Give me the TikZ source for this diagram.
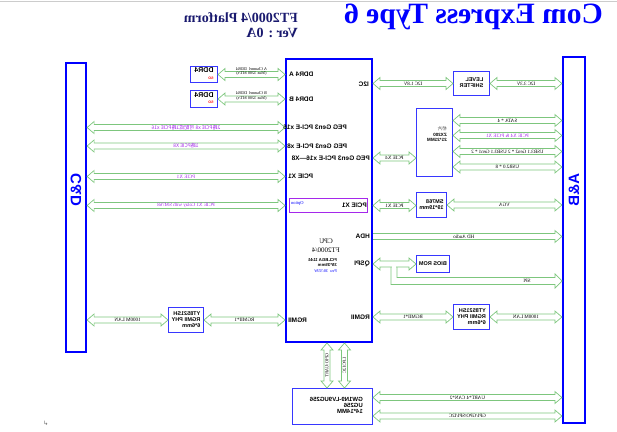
\documentclass[tikz,border=0pt]{standalone}
\usepackage{fontspec}
\usepackage{graphicx}
\setmainfont{Liberation Serif}
\setsansfont{Liberation Sans}
\newfontfamily\cjk{Noto Sans CJK SC}
\newfontfamily\dejavu{DejaVu Sans}
\usetikzlibrary{calc}

\definecolor{busgreen}{RGB}{125,198,125}
\definecolor{lblpurple}{RGB}{165,40,235}
\definecolor{boxblue}{RGB}{55,55,255}
\definecolor{titlenavy}{RGB}{25,25,110}

% the sheet is printed mirror-wise, so every text is reflected
\newcommand{\mir}[1]{\reflectbox{#1}}
\newcommand{\mirl}[1]{\reflectbox{\begin{tabular}{@{}l@{}}#1\end{tabular}}}
\newcommand{\mirc}[1]{\reflectbox{\begin{tabular}{@{}c@{}}#1\end{tabular}}}
\renewcommand{\arraystretch}{0.95}

\begin{document}
\begin{tikzpicture}[x=1pt, y=-1pt,
  bar/.style     = {draw=blue, line width=2.2pt, inner sep=0pt},
  cpubox/.style  = {draw=blue, line width=2pt, inner sep=0pt},
  box/.style     = {draw=boxblue, line width=1.2pt, inner sep=0pt,
                    font=\sffamily\bfseries\fontsize{5.5}{6.5}\selectfont},
  optbox/.style  = {draw=lblpurple, line width=0.9pt, inner sep=0pt},
  port/.style    = {inner sep=0pt, font=\sffamily\bfseries\fontsize{6.5}{7}\selectfont},
  side/.style    = {inner sep=0pt, rotate=90, text=blue,
                    font=\sffamily\bfseries\fontsize{15}{15}\selectfont},
  blbl/.style    = {midway, yshift=-3pt, inner sep=0pt, font=\fontsize{5}{5.5}\selectfont},
  plbl/.style    = {blbl, text=lblpurple},
  dlbl/.style    = {midway, inner sep=0pt, font=\fontsize{4.2}{4.8}\selectfont},
  vlbl/.style    = {midway, xshift=-3pt, rotate=90, inner sep=0pt,
                    font=\fontsize{4.5}{5}\selectfont},
  busline/.style = {draw=busgreen, line width=0.7pt},
  hbus/.style    = {busline, to path={let \p1=(\tikztostart), \p2=(\tikztotarget) in
                    -- (\x1+7pt,\y1+6pt) -- (\x1+7pt,\y1+3pt) -- (\x2-7pt,\y1+3pt) \tikztonodes
                    -- (\x2-7pt,\y1+6pt) -- (\x2,\y1) -- (\x2-7pt,\y1-6pt) -- (\x2-7pt,\y1-3pt)
                    -- (\x1+7pt,\y1-3pt) -- (\x1+7pt,\y1-6pt) -- cycle}},
  hbusr/.style   = {busline, to path={let \p1=(\tikztostart), \p2=(\tikztotarget) in
                    (\x1,\y1+3pt) -- (\x2-7pt,\y1+3pt) \tikztonodes -- (\x2-7pt,\y1+6pt)
                    -- (\x2,\y1) -- (\x2-7pt,\y1-6pt) -- (\x2-7pt,\y1-3pt) -- (\x1,\y1-3pt)}},
  vbus/.style    = {busline, to path={let \p1=(\tikztostart), \p2=(\tikztotarget) in
                    -- (\x1+6pt,\y1-7pt) -- (\x1+3pt,\y1-7pt) -- (\x1+3pt,\y2+7pt) \tikztonodes
                    -- (\x1+6pt,\y2+7pt) -- (\x1,\y2) -- (\x1-6pt,\y2+7pt) -- (\x1-3pt,\y2+7pt)
                    -- (\x1-3pt,\y1-7pt) -- (\x1-6pt,\y1-7pt) -- cycle}},
]
\useasboundingbox (0,0) rectangle (617,431);
\draw[black!20, line width=0.5pt] (0,0.8) -- (617,0.8);

% heading
\node[anchor=base, inner sep=0pt, text=blue, font=\bfseries\fontsize{29.5}{32}\selectfont]
  (title) at (473.5,23) {\mir{Com Express Type 6}};
\node[anchor=base east, inner sep=0pt, text=titlenavy, font=\bfseries\fontsize{14}{15}\selectfont]
  (platform) at (298,22) {\mir{FT2000/4 Platform}};
\node[anchor=base east, inner sep=0pt, text=titlenavy, font=\bfseries\fontsize{14}{15}\selectfont]
  (ver) at (298,37) {\mir{Ver : 0A}};

% connectors of the carrier
\node[bar, minimum width=20pt, minimum height=289pt] (cd) at (76,207.5) {};
\node[side] (cdtxt) at (76,190) {\mir{C\&D}};
\node[bar, minimum width=22pt, minimum height=366pt] (ab) at (574,240) {};
\node[side] (abtxt) at (574,190) {\mir{A\&B}};

% processor
\node[cpubox, minimum width=86pt, minimum height=283.5pt] (cpu) at (329,200.25) {};
\node[port, anchor=west] (ddral) at (289,74.5) {\mir{DDR4 A}};
\node[port, anchor=west] (ddrbl) at (289,99) {\mir{DDR4 B}};
\node[port, anchor=east] (i2cl) at (369,84) {\mir{I2C}};
\node[port, anchor=west] (peg16l) at (283,127.5) {\mir{PEG Gen3 PCI-E x16}};
\node[port, anchor=west] (peg8l) at (287,146) {\mir{PEG Gen3 PCI-E x8}};
\node[port, anchor=east] (pegxl) at (370,158) {\mir{PEG Gen3 PCI-E x16---X8}};
\node[port, anchor=west] (pcie1l) at (288,176.5) {\mir{PCIE X1}};
\node[optbox, minimum width=78pt, minimum height=14pt] (opt) at (328.5,205.5) {};
\node[port, anchor=east] (optl) at (367,205.5) {\mir{PCIE X1}};
\node[anchor=west, inner sep=0pt, text=blue, font=\fontsize{4.5}{5}\selectfont]
  (optnote) at (291,203.5) {\mir{Option}};
\node[port, anchor=east] (hdal) at (370,236.5) {\mir{HDA}};
\node[port, anchor=east] (qspil) at (370,264) {\mir{QSPI}};
\node[port, anchor=east] (rgmiirl) at (370,317.5) {\mir{RGMII}};
\node[port, anchor=west] (rgmiill) at (288,320) {\mir{RGMII}};
\node[inner sep=0pt, font=\fontsize{7}{10}\selectfont] (cpuname) at (326,246)
  {\mirc{CPU\\FT2000/4}};
\node[anchor=north east, inner sep=0pt, font=\fontsize{4.3}{5.8}\selectfont] (cpupkg) at (337,257)
  {\mirl{{\sffamily\bfseries FCLBGA 1144}\\{\sffamily\bfseries 35*35mm}\\\textcolor{blue}{Pcu\ \ 30/35W}}};

% parts round the processor
\node[box, minimum width=26.8pt, minimum height=15.8pt] (ddra) at (204,74.5)
  {\mirl{\fontsize{7}{7.5}\selectfont DDR4\\\textcolor{red}{\fontsize{3.5}{4}\selectfont SO}}};
\node[box, minimum width=26.8pt, minimum height=16.8pt] (ddrb) at (204,99)
  {\mirl{\fontsize{7}{7.5}\selectfont DDR4\\\textcolor{red}{\fontsize{3.5}{4}\selectfont SO}}};
\node[box, minimum width=35.8pt, minimum height=23.8pt] (ls) at (471.5,83.5)
  {\mirl{LEVEL\\SHIFTER}};
\node[box, minimum width=35.8pt, minimum height=67.8pt] (bridge) at (434.5,142.5) {};
\node[anchor=east, inner sep=0pt, font=\sffamily\bfseries\fontsize{4.6}{5.6}\selectfont]
  (bridgetxt) at (447,135) {\mirl{\textcolor{black!70}{\mdseries\cjk 桥片}\\ZX200\\21*21MM}};
\node[box, minimum width=29.8pt, minimum height=24.8pt] (sm) at (431.5,205)
  {\mirl{SM768\\19*19mm}};
\node[box, minimum width=32.8pt, minimum height=16.8pt] (bios) at (433,264) {\mir{BIOS ROM}};
\node[box, minimum width=35.8pt, minimum height=24.8pt] (phyr) at (471.5,317)
  {\mirl{YT8521SH\\RGMII PHY\\6*6mm}};
\node[box, minimum width=34.8pt, minimum height=24.8pt] (phyl) at (186,320)
  {\mirl{YT8521SH\\RGMII PHY\\6*6mm}};
\node[box, minimum width=79.8pt, minimum height=35.8pt] (fpga) at (332.5,406.5) {};
\node[anchor=east, inner sep=0pt, font=\sffamily\bfseries\fontsize{6}{6.5}\selectfont]
  (fpgatxt) at (363,406.5) {\mirl{GW1N9-LV9UG256\\UG256\\14*14MM}};

\coordinate (br1) at (453,120.5);
\coordinate (br2) at (453,135.5);
\coordinate (br3) at (453,151.5);
\coordinate (br4) at (453,167);
\coordinate (fp1) at (373,397.5);
\coordinate (fp2) at (373,416);
\coordinate (v1) at (327,0);
\coordinate (v2) at (344.5,0);

% buses, left half
\draw[hbus] (ddra.east) to node[dlbl] {\mirc{A Channel\ \ DDR4\\(Max 3200 MT/s)}} (cpu.west |- ddra.east);
\draw[hbus] (ddrb.east) to node[dlbl] {\mirc{B Channel\ \ DDR4\\(Max 3200 MT/s)}} (cpu.west |- ddrb.east);
\draw[hbus] (cd.east |- peg16l) to node[plbl] {\mir{\cjk 2路PCIE x8 可配成1路PCIE x16}} (cpu.west |- peg16l);
\draw[hbus] (cd.east |- peg8l) to node[plbl] {\mir{\cjk 1路PCIE X8}} (cpu.west |- peg8l);
\draw[hbus] (cd.east |- pcie1l) to node[plbl] {\mir{PCIE X1}} (cpu.west |- pcie1l);
\draw[hbus] (cd.east |- opt) to node[plbl] {\mir{PCIE X1 Colay with SM768}} (cpu.west |- opt);
\draw[hbus] (cd.east |- phyl) to node[blbl] {\mir{1000M LAN}} (phyl.west);
\draw[hbus] (phyl.east) to node[blbl] {\mir{RGMII*1}} (cpu.west |- phyl);

% buses, right half
\draw[hbus] (cpu.east |- ls) to node[blbl] {\mir{I2C 1.8V}} (ls.west);
\draw[hbus] (ls.east) to node[blbl] {\mir{I2C 3.3V}} (ab.west |- ls);
\draw[hbus] (cpu.east |- pegxl) to node[blbl] {\mir{PCIE X4}} (bridge.west |- pegxl);
\draw[hbus] (br1) to node[blbl] {\mir{SATA * 4}} (ab.west |- br1);
\draw[hbus] (br2) to node[plbl] {\mir{PCIE X4 \& PCIE X1}} (ab.west |- br2);
\draw[hbus] (br3) to node[blbl] {\mir{USB3.1 Gen2 * 2 USB3.1 Gen1 * 2}} (ab.west |- br3);
\draw[hbus] (br4) to node[blbl] {\mir{USB2.0 * 8}} (ab.west |- br4);
\draw[hbus] (cpu.east |- opt) to node[blbl] {\mir{PCIE X1}} (sm.west |- opt);
\draw[hbus] (sm.east) to node[blbl] {\mir{VGA}} (ab.west |- sm.east);
\draw[hbusr] (cpu.east |- hdal) to node[blbl] {\mir{HD Audio}} (ab.west |- hdal);
\draw[hbus] (cpu.east |- bios) to (bios.west);
\draw[white, line width=1.2pt] (391.6,267) -- (396.4,267);
\draw[busline] (391,267) -- (391,284.5) -- (555,284.5) -- (555,288) -- (562,281)
  -- (555,274) -- (555,277.5) -- (397,277.5) -- (397,267);
\node[inner sep=0pt, font=\fontsize{5}{5.5}\selectfont] (spil) at (527,281) {\mir{SPI}};
\draw[hbus] (cpu.east |- phyr) to node[blbl] {\mir{RGMII*1}} (phyr.west);
\draw[hbus] (phyr.east) to node[blbl] {\mir{1000M LAN}} (ab.west |- phyr);
\draw[hbus] (fp1) to node[blbl] {\mir{UART*4 CAN*2}} (ab.west |- fp1);
\draw[hbus] (fp2) to node[blbl] {\mir{GPI/GPO/SPI/I2C}} (ab.west |- fp2);

% processor to the FPGA
\draw[vbus] (cpu.south -| v1) to node[vlbl] {\mir{GPIO/UART}} (fpga.north -| v1);
\draw[vbus] (cpu.south -| v2) to node[vlbl] {\mir{LPC/I2C}} (fpga.north -| v2);

\node[inner sep=0pt, text=black!60, font=\dejavu\fontsize{6}{6}\selectfont] (mark) at (46,423) {↳};
\end{tikzpicture}
\end{document}
